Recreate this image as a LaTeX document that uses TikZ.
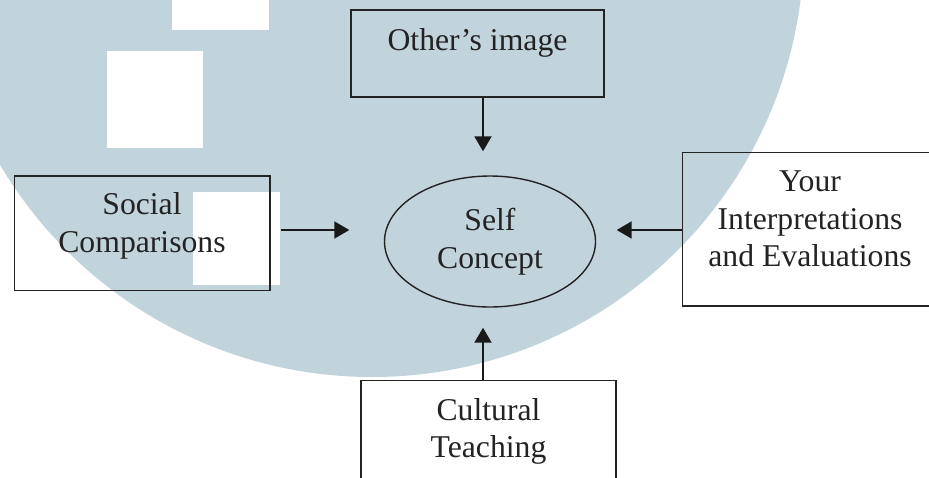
\documentclass[tikz,border=0pt]{standalone}
\usepackage{fontspec}
\setmainfont{Liberation Serif}
\usetikzlibrary{arrows.meta,shapes.geometric}
\definecolor{marca}{RGB}{193,212,219}
\definecolor{tinta}{RGB}{35,35,35}

\begin{document}
\begin{tikzpicture}[x=0.5pt,y=-0.5pt,
    every node/.style={font=\fontsize{15.85pt}{18.75pt}\selectfont,text=tinta,align=center,inner sep=0pt},
    caja/.style={draw=tinta,line width=0.7pt},
    flecha/.style={draw=black!90,line width=1pt,-{Triangle[width=8.5pt,length=7.5pt]}}]
      \useasboundingbox (0,0) rectangle (929,477);
      \clip (0,0) rectangle (929,477);
      % Fondo (marca de agua)
      \fill[white] (0,0) rectangle (929,477);
      \fill[marca] (372,-55) circle[radius=432];
      \fill[white] (107,51) rectangle (203,148);
      \fill[white] (172,-70) rectangle (269,30);
      \fill[white] (193,192) rectangle (280,285);
      % Ejes de las flechas
      \coordinate (ejeV) at (483,0);
      \coordinate (ejeH) at (0,230);
      % Nodo central
      \node[caja,ellipse,minimum width=105.5pt,minimum height=65.5pt] (self) at (490,241.5) {Self\\Concept};
      % Cajas
      \node[caja,minimum width=126.5pt,minimum height=43.5pt] (otro) at (477.5,53.5) {};
      \node (otrotxt) at (477.5,42.6) {Other’s image};
      \node[caja,minimum width=127.7pt,minimum height=57.3pt] (social) at (142.3,233.3) {};
      \node (socialtxt) at (142,226) {Social\\Comparisons};
      \node[caja,minimum width=127.7pt,minimum height=76.7pt] (your) at (810.3,229.3) {};
      \node (yourtxt) at (810,218.8) {Your\\Interpretations\\and Evaluations};
      \node[caja,minimum width=127.5pt,minimum height=59.7pt] (cultural) at (488.5,440.3) {};
      \node (culturaltxt) at (488.5,431.6) {Cultural\\Teaching};
      % Flechas hacia el centro
      \draw[flecha,shorten >=12pt] (otro.south -| ejeV) -- (self.north -| ejeV);
      \draw[flecha,shorten >=10pt] (cultural.north -| ejeV) -- (self.south -| ejeV);
      \draw[flecha,shorten <=5pt,shorten >=17.25pt] (social.east |- ejeH) -- (self.west |- ejeH);
      \draw[flecha,shorten >=10.25pt] (your.west |- ejeH) -- (self.east |- ejeH);
    \end{tikzpicture}
\end{document}
